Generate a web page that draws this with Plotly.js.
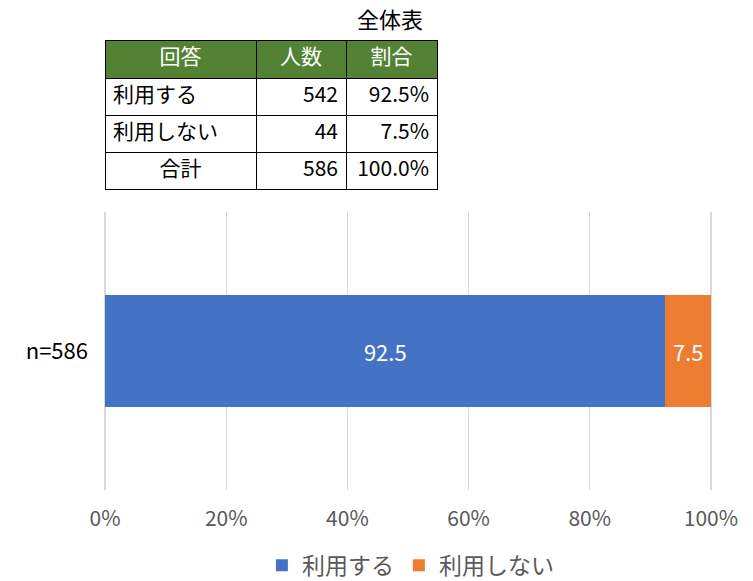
<!DOCTYPE html>
<html><head><meta charset="utf-8">
<script src="https://cdn.plot.ly/plotly-3.0.1.min.js"></script>
<style>body{margin:0}#c{width:753px;height:581px}</style>
</head><body><div id="c"></div>
<script>
const tableHeader = ['回答', '人数', '割合'];
const answers = ['利用する', '利用しない', '合計'];
const counts = ['542', '44', '586'];
const shares = ['92.5%', '7.5%', '100.0%'];
const seriesNames = ['利用する', '利用しない'];
const seriesValues = [92.5, 7.5];
const category = ['n=586'];
const tickVals = [0, 20, 40, 60, 80, 100];
const tickText = ['0%', '20%', '40%', '60%', '80%', '100%'];
const colors = ['#4472C4', '#ED7D31'];
const FONT = '"Noto Sans CJK JP", "Noto Sans", sans-serif';

const traces = [];
seriesNames.forEach((n, i) => {
  traces.push({
    type: 'bar', orientation: 'h', name: n,
    y: category, x: [seriesValues[i]],
    marker: {color: colors[i]},
    text: [seriesValues[i].toFixed(1)], textposition: 'inside',
    insidetextanchor: 'middle', constraintext: 'none',
    textfont: {color: '#ffffff', size: 22, family: FONT},
    hoverinfo: 'none'
  });
});
traces.push({
  type: 'table',
  domain: {x: [105/753, 437/753], y: [1 - 198/581, 1 - 40/581]},
  columnwidth: [151, 90, 91],
  header: {
    values: tableHeader, height: 38,
    fill: {color: '#548235'},
    line: {color: '#000000', width: 1},
    align: 'center',
    font: {color: '#ffffff', size: 21, family: FONT}
  },
  cells: {
    values: [answers, counts, shares], height: 37,
    fill: {color: '#ffffff'},
    line: {color: '#000000', width: 1},
    align: [['left', 'left', 'center'], 'right', 'right'],
    font: {color: '#000000', size: 21, family: FONT}
  }
});

const layout = {
  width: 753, height: 581,
  margin: {l: 0, r: 0, t: 0, b: 0, autoexpand: false},
  paper_bgcolor: '#ffffff', plot_bgcolor: '#ffffff',
  font: {family: FONT},
  barmode: 'stack', bargap: 0.6,
  showlegend: true,
  legend: {orientation: 'h', x: 0.545, xanchor: 'center', y: -0.01, yanchor: 'bottom',
           font: {size: 23, color: '#595959'}, itemwidth: 30, traceorder: 'normal'},
  xaxis: {
    domain: [103/753, 713/753], range: [-0.35, 100.35], automargin: false,
    tickvals: tickVals, ticktext: tickText,
    showgrid: true, gridcolor: '#d9d9d9', gridwidth: 1.5,
    zeroline: false, showline: false,
    tickfont: {size: 21, color: '#595959'}, ticklen: 0, ticks: '',
    ticklabelstandoff: 14
  },
  yaxis: {
    domain: [1 - 490/581, 1 - 212/581], automargin: false,
    showgrid: false, zeroline: false, showline: false,
    tickfont: {size: 22, color: '#000000'}, ticks: '',
    ticklabelstandoff: 14
  },
  annotations: [{
    text: '全体表', xref: 'paper', yref: 'paper',
    x: 390/753, y: 1 - 18/581, xanchor: 'center', yanchor: 'middle',
    showarrow: false, font: {size: 22, color: '#000000'}
  }]
};
Plotly.newPlot('c', traces, layout, {displayModeBar: false, staticPlot: true});
</script></body></html>
